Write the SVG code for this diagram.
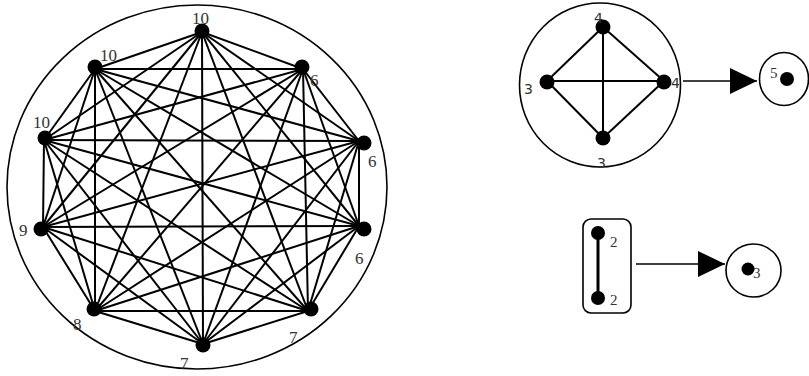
<svg xmlns="http://www.w3.org/2000/svg" width="809" height="376" viewBox="0 0 809 376">
<style>
.e{stroke:#000;stroke-width:2;fill:none}
.o{stroke:#000;stroke-width:1.6;fill:none}
.d{fill:#000}
.ls{font-family:"Liberation Serif","Times New Roman",serif;font-size:17px;fill:#333}
.ss{font-family:"Liberation Serif","Times New Roman",serif;font-size:15px;fill:#333}
.sa{font-family:"DejaVu Sans",Verdana,sans-serif;font-size:14px;fill:#333}
</style>
<defs>
<marker id="ah" markerWidth="27" markerHeight="26" refX="27" refY="13" orient="auto" markerUnits="userSpaceOnUse">
<path d="M0,0 L27,13 L0,26 Z" fill="#000"/>
</marker>
</defs>
<rect width="809" height="376" fill="#fff"/>
<g id="outer-circle"><ellipse class="o" cx="197" cy="187" rx="190" ry="182"/></g>
<g id="connectors">
<g class="e">
<line x1="202" y1="32" x2="95" y2="69"/>
<line x1="202" y1="32" x2="44" y2="140"/>
<line x1="202" y1="32" x2="43" y2="227"/>
<line x1="202" y1="32" x2="95" y2="311"/>
<line x1="202" y1="32" x2="203" y2="344"/>
<line x1="202" y1="32" x2="308" y2="311"/>
<line x1="202" y1="32" x2="359" y2="226"/>
<line x1="202" y1="32" x2="359" y2="141"/>
<line x1="202" y1="32" x2="303" y2="69"/>
<line x1="95" y1="69" x2="44" y2="140"/>
<line x1="95" y1="69" x2="43" y2="227"/>
<line x1="95" y1="69" x2="95" y2="311"/>
<line x1="95" y1="69" x2="203" y2="344"/>
<line x1="95" y1="69" x2="308" y2="311"/>
<line x1="95" y1="69" x2="359" y2="226"/>
<line x1="95" y1="69" x2="359" y2="141"/>
<line x1="95" y1="69" x2="303" y2="69"/>
<line x1="44" y1="140" x2="43" y2="227"/>
<line x1="44" y1="140" x2="95" y2="311"/>
<line x1="44" y1="140" x2="203" y2="344"/>
<line x1="44" y1="140" x2="308" y2="311"/>
<line x1="44" y1="140" x2="359" y2="226"/>
<line x1="44" y1="140" x2="359" y2="141"/>
<line x1="44" y1="140" x2="303" y2="69"/>
<line x1="43" y1="227" x2="95" y2="311"/>
<line x1="43" y1="227" x2="203" y2="344"/>
<line x1="43" y1="227" x2="308" y2="311"/>
<line x1="43" y1="227" x2="359" y2="226"/>
<line x1="43" y1="227" x2="359" y2="141"/>
<line x1="43" y1="227" x2="303" y2="69"/>
<line x1="95" y1="311" x2="203" y2="344"/>
<line x1="95" y1="311" x2="308" y2="311"/>
<line x1="95" y1="311" x2="359" y2="226"/>
<line x1="95" y1="311" x2="359" y2="141"/>
<line x1="95" y1="311" x2="303" y2="69"/>
<line x1="203" y1="344" x2="308" y2="311"/>
<line x1="203" y1="344" x2="359" y2="226"/>
<line x1="203" y1="344" x2="359" y2="141"/>
<line x1="203" y1="344" x2="303" y2="69"/>
<line x1="308" y1="311" x2="359" y2="226"/>
<line x1="308" y1="311" x2="359" y2="141"/>
<line x1="308" y1="311" x2="303" y2="69"/>
<line x1="359" y1="226" x2="359" y2="141"/>
<line x1="359" y1="226" x2="303" y2="69"/>
<line x1="359" y1="141" x2="303" y2="69"/>
<line x1="547" y1="81" x2="664" y2="81"/>
<line x1="603" y1="27" x2="603" y2="138"/>
<line x1="603" y1="27" x2="547" y2="81"/>
<line x1="603" y1="27" x2="664" y2="81"/>
<line x1="547" y1="81" x2="603" y2="138"/>
<line x1="664" y1="81" x2="603" y2="138"/>
<line x1="598" y1="233" x2="598" y2="298" stroke-width="3"/>
</g>
<line x1="683" y1="81" x2="757" y2="81" stroke="#000" stroke-width="1.6" marker-end="url(#ah)"/>
<line x1="636" y1="264" x2="725" y2="264" stroke="#000" stroke-width="1.6" marker-end="url(#ah)"/>
</g>
<g id="n-a"><circle class="d" cx="202" cy="31" r="7.5"/><text class="ls" x="192" y="24">10</text></g>
<g id="n-b"><circle class="d" cx="95" cy="67" r="7.5"/><text class="ls" x="100" y="61">10</text></g>
<g id="n-c"><circle class="d" cx="45" cy="138" r="7.5"/><text class="ls" x="33" y="128">10</text></g>
<g id="n-d"><circle class="d" cx="41" cy="229" r="7.5"/><text class="ls" x="19" y="236">9</text></g>
<g id="n-e"><circle class="d" cx="94" cy="309" r="7.5"/><text class="ls" x="73" y="330">8</text></g>
<g id="n-f"><circle class="d" cx="203" cy="345" r="7.5"/><text class="ls" x="180" y="369">7</text></g>
<g id="n-g"><circle class="d" cx="311" cy="309" r="7.5"/><text class="ls" x="289" y="343">7</text></g>
<g id="n-h"><circle class="d" cx="364" cy="229" r="7.5"/><text class="ls" x="355" y="264">6</text></g>
<g id="n-i"><circle class="d" cx="364" cy="143" r="7.5"/><text class="ls" x="368" y="167">6</text></g>
<g id="n-j"><circle class="d" cx="302" cy="67" r="7.5"/><text class="ls" x="310" y="86">6</text></g>
<g id="k4-circle"><ellipse class="o" cx="600" cy="85" rx="80.5" ry="82"/></g>
<g id="k4-top"><circle class="d" cx="603" cy="27" r="7.5"/><text class="sa" x="594" y="23">4</text></g>
<g id="k4-left"><circle class="d" cx="547" cy="82" r="7.5"/><text class="sa" x="524" y="94">3</text></g>
<g id="k4-right"><circle class="d" cx="664" cy="82" r="7.5"/><text class="sa" x="671" y="88">4</text></g>
<g id="k4-bottom"><circle class="d" cx="603" cy="138" r="7.5"/><text class="sa" x="597" y="168">3</text></g>
<g id="result-5"><ellipse class="o" cx="784" cy="79" rx="24.5" ry="26.5"/><circle class="d" cx="787" cy="79" r="7"/><text class="ss" x="770" y="78" font-size="14">5</text></g>
<g id="k2-box"><rect class="o" x="583" y="219" width="48" height="94" rx="8" ry="8"/></g>
<g id="k2-top"><circle class="d" cx="598" cy="233" r="7"/><text class="ss" x="610" y="247">2</text></g>
<g id="k2-bottom"><circle class="d" cx="598" cy="298" r="7"/><text class="ss" x="610" y="305">2</text></g>
<g id="result-3"><ellipse class="o" cx="753.5" cy="270.5" rx="27.5" ry="26.5"/><circle class="d" cx="748" cy="269" r="6.5"/><text class="ss" x="753" y="278" font-size="14">3</text></g>
</svg>
